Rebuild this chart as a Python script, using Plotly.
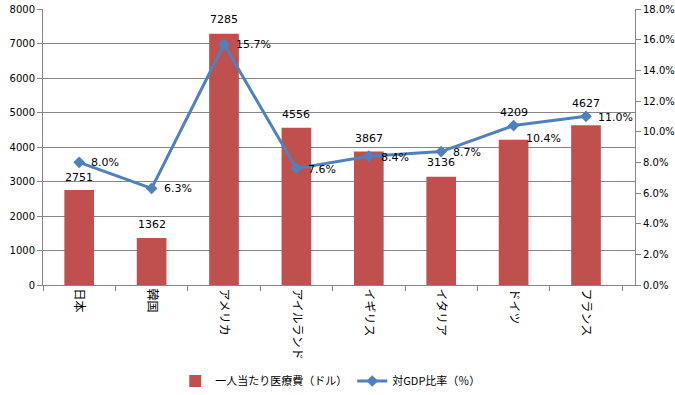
import plotly.graph_objects as go

categories = ["日本", "韓国", "アメリカ", "アイルランド", "イギリス", "イタリア", "ドイツ", "フランス"]
cost = [2751, 1362, 7285, 4556, 3867, 3136, 4209, 4627]
gdp_ratio = [8.0, 6.3, 15.7, 7.6, 8.4, 8.7, 10.4, 11.0]

# label offsets (pixels) used only for styling label placement
bar_label_shift = [13, 14, 14, 13, 13, 14, 27, 22]
line_label_shift = [0, 0, 0, -1, -1, -1, -13, -1]

font_main = "DejaVu Sans, Verdana, sans-serif"
font_jp = "Noto Sans CJK JP, sans-serif"

fig = go.Figure()
fig.add_trace(go.Bar(
    x=categories, y=cost, name="一人当たり医療費（ドル）",
    marker=dict(color="#C0504D", line=dict(width=0)),
))
fig.add_trace(go.Scatter(
    x=categories, y=gdp_ratio, name="対GDP比率（％）", yaxis="y2",
    mode="lines+markers",
    line=dict(color="#4F81BD", width=3),
    marker=dict(symbol="diamond", size=9, color="#4F81BD"),
    cliponaxis=False,
))

annotations = []
for c, v, s in zip(categories, cost, bar_label_shift):
    annotations.append(dict(
        x=c, y=v, xref="x", yref="y", text=str(v), showarrow=False,
        xanchor="center", yanchor="middle", yshift=s,
        font=dict(family=font_main, size=11, color="#000000"),
    ))
for c, v, s in zip(categories, gdp_ratio, line_label_shift):
    annotations.append(dict(
        x=c, y=v, xref="x", yref="y2", text=f"{v:.1f}%", showarrow=False,
        xanchor="left", yanchor="middle", xshift=10, yshift=s,
        font=dict(family=font_main, size=11, color="#000000"),
    ))

fig.update_layout(
    width=675, height=395,
    margin=dict(l=43, r=40, t=9, b=110, autoexpand=False),
    paper_bgcolor="white", plot_bgcolor="white",
    bargap=0.59,
    showlegend=True,
    legend=dict(orientation="h", x=0.49, xanchor="center", xref="container",
                y=14 / 395, yanchor="middle", yref="container",
                font=dict(family=font_jp, size=11, color="#000000"),
                traceorder="normal", itemwidth=30),
    annotations=annotations,
    xaxis=dict(
        type="category", tickangle=90, showgrid=False, automargin=False,
        showline=True, linecolor="#868686", ticks="outside", tickson="boundaries",
        tickcolor="#868686", ticklen=5,
        tickfont=dict(family=font_jp, size=12, color="#000000"),
    ),
    yaxis=dict(
        range=[0, 8000], dtick=1000, showgrid=True, gridcolor="#868686", gridwidth=1,
        showline=True, linecolor="#868686", ticks="outside", tickcolor="#868686", ticklen=5,
        automargin=False,
        tickfont=dict(family=font_main, size=10, color="#000000"), zeroline=False,
    ),
    yaxis2=dict(
        range=[0, 18], dtick=2, overlaying="y", side="right", showgrid=False,
        showline=True, linecolor="#868686", ticks="outside", tickcolor="#868686", ticklen=5,
        ticksuffix="%", tickformat=".1f", automargin=False,
        tickfont=dict(family=font_main, size=10, color="#000000"), zeroline=False,
    ),
)

fig.write_html(
    "out.html",
    config={"displayModeBar": False},
    post_script="document.body.style.margin='0';document.body.style.overflow='hidden';",
)
